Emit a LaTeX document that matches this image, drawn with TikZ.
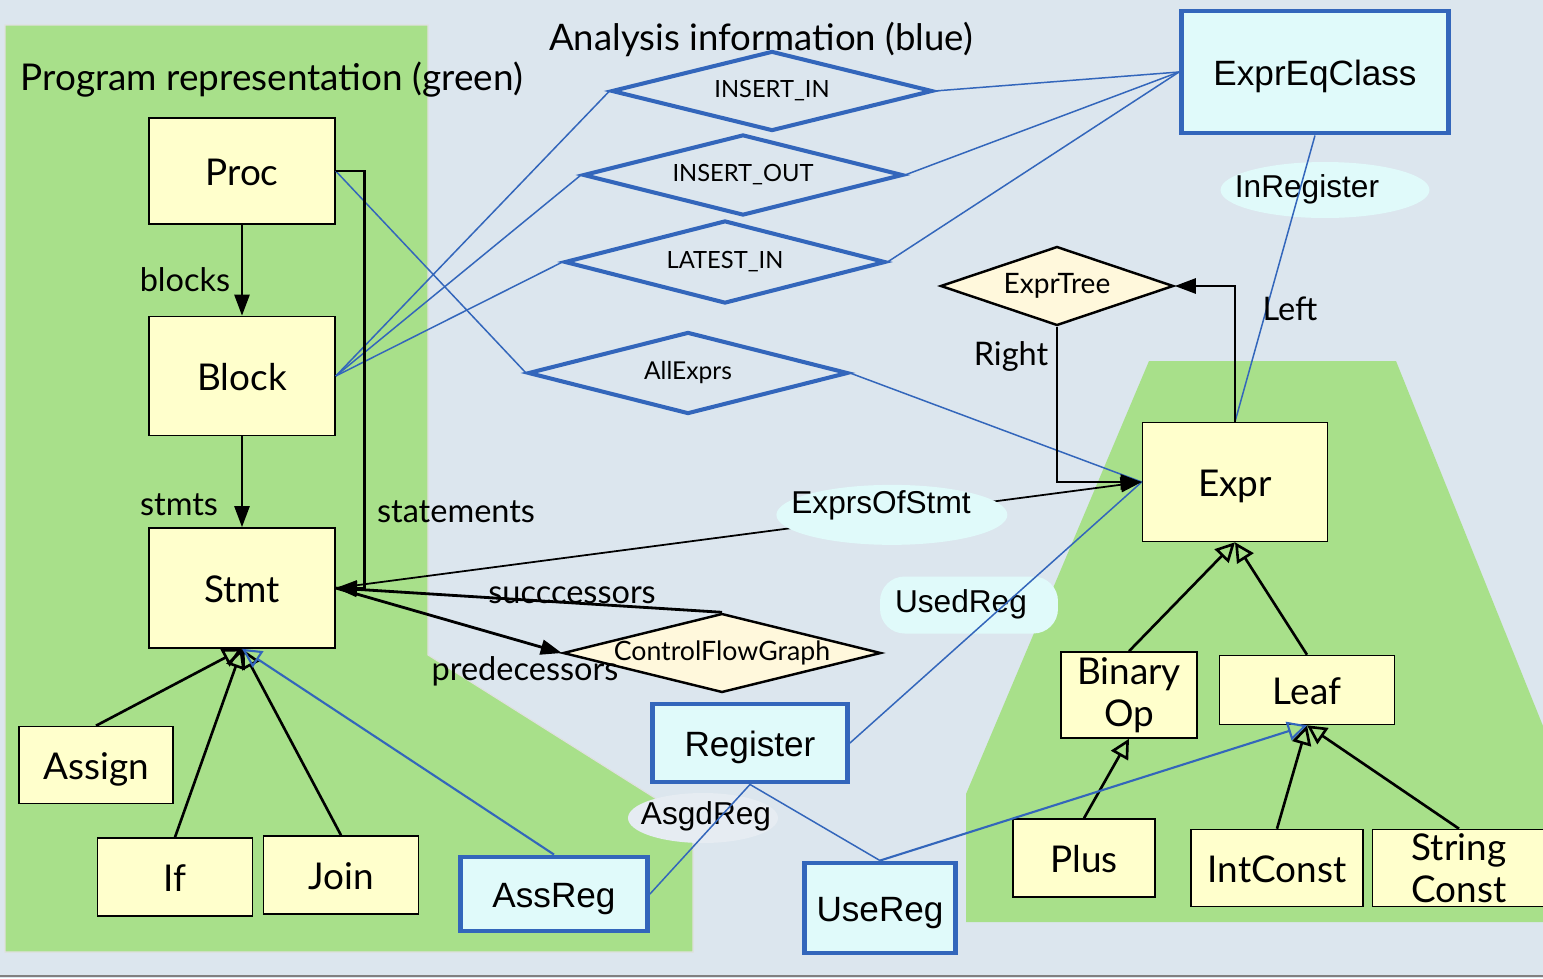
\documentclass[tikz,border=0pt]{standalone}
\usepackage{fontspec}
\setmainfont{Lato}
\newfontfamily\arialfont{Liberation Sans}
\usetikzlibrary{shapes.geometric,arrows.meta}
\definecolor{bgcol}{HTML}{DCE6EE}
\definecolor{greencol}{HTML}{A8E08A}
\definecolor{classcol}{HTML}{FFFFCC}
\definecolor{regcol}{HTML}{E0FAFA}
\definecolor{bluecol}{HTML}{3366BB}
\definecolor{relcol}{HTML}{FFF8DC}
\definecolor{asgdcol}{HTML}{E6ECF2}
\tikzset{
  cls/.style={draw, line width=0.9pt, fill=classcol, inner sep=0pt, align=center, font=\fontsize{21}{24}\selectfont},
  cls1/.style={cls, text height=19pt, text depth=2.6pt},
  reg/.style={draw=bluecol, line width=2.8pt, fill=regcol, inner sep=0pt, text height=19pt, text depth=4pt, font=\arialfont\fontsize{20}{24}\selectfont},
  ana/.style={diamond, draw=bluecol, line width=2.3pt, aspect=4, inner sep=0pt, font=\fontsize{13.5}{16}\selectfont},
  rel/.style={diamond, draw, line width=1.4pt, fill=relcol, aspect=4, inner sep=0pt},
  role/.style={ellipse, fill=regcol, inner sep=0pt},
  roletext/.style={font=\arialfont\fontsize{18}{20}\selectfont},
  lbl/.style={anchor=base, font=\fontsize{18.5}{22}\selectfont},
  ttl/.style={anchor=base, font=\fontsize{21}{25}\selectfont},
  assoc/.style={line width=1.6pt, -{Triangle[length=12pt,width=8.5pt]}},
  isa/.style={line width=1.5pt, -{Triangle[open,length=11pt,width=11pt]}},
  isablue/.style={draw=bluecol, line width=1.2pt, -{Triangle[open,length=11pt,width=11pt]}},
  link/.style={draw=bluecol, line width=0.85pt},
}
\begin{document}
\begin{tikzpicture}[x=0.02cm, y=-0.02cm]
	\useasboundingbox (0,0) rectangle (1543,978);
	\fill[bgcol] (0,0) rectangle (1543,978);
	\filldraw[fill=greencol, draw=black!12, line width=0.6pt] (5,25) -- (428,25) -- (428,655) -- (693,822) -- (693,952) -- (5,952) -- cycle;
	\fill[greencol] (1149,361) -- (1396,361) -- (1543,726) -- (1543,922) -- (966,922) -- (966,794) -- cycle;
	\draw[gray, line width=1pt] (0,976) -- (1543,976);

	\node[ttl] (progtitle) at (272,90) {Program representation (green)};
	\node[ttl, font=\fontsize{20.8}{25}\selectfont] (anatitle) at (761,50) {Analysis information (blue)};

	\node[role, minimum width=4.18cm, minimum height=1.12cm] (inreg) at (1325,190) {};
	\node[roletext] (inregtext) at (1307,189) {InRegister};
	\node[role, shape=rectangle, rounded corners=14pt, minimum width=3.56cm, minimum height=1.14cm] (usedreg) at (969,605) {};
	\node[roletext] (usedregtext) at (961,604) {UsedReg};
	\node[role, fill=asgdcol, minimum width=3.0cm, minimum height=1.0cm] (asgdreg) at (703,818) {};
	\node[roletext] (asgdregtext) at (706,816) {AsgdReg};

	\node[cls1, minimum width=3.72cm, minimum height=2.12cm] (proc) at (242,171) {Proc};
	\node[cls1, minimum width=3.72cm, minimum height=2.38cm] (block) at (242,376) {Block};
	\node[cls1, minimum width=3.72cm, minimum height=2.4cm] (stmt) at (242,588) {Stmt};
	\node[cls1, minimum width=3.08cm, minimum height=1.54cm] (assign) at (96,765) {Assign};
	\node[cls1, minimum width=3.1cm, minimum height=1.56cm] (if) at (175,877) {If};
	\node[cls1, minimum width=3.1cm, minimum height=1.56cm] (join) at (341,875) {Join};
	\node[reg, minimum width=3.74cm, minimum height=1.48cm] (assreg) at (554,894) {AssReg};
	\node[reg, minimum width=3.9cm, minimum height=1.56cm] (register) at (750,743) {Register};
	\node[reg, minimum width=3.02cm, minimum height=1.8cm] (usereg) at (880,908) {UseReg};
	\node[reg, minimum width=5.34cm, minimum height=2.44cm] (expreq) at (1315,72) {ExprEqClass};
	\node[cls1, minimum width=3.7cm, minimum height=2.38cm] (expr) at (1235,482) {Expr};
	\node[cls, minimum width=2.72cm, minimum height=1.72cm] (binop) at (1129,695) {Binary\\Op};
	\node[cls1, minimum width=3.5cm, minimum height=1.38cm] (leaf) at (1307,690) {Leaf};
	\node[cls1, minimum width=2.84cm, minimum height=1.56cm] (plus) at (1084,858) {Plus};
	\node[cls1, minimum width=3.44cm, minimum height=1.54cm] (intconst) at (1277,868) {IntConst};
	\node[cls, minimum width=3.46cm, minimum height=1.54cm] (strconst) at (1459,868) {String\\Const};

	\node[ana, minimum width=6.42cm, minimum height=1.6cm] (insin) at (772,91) {INSERT\_IN};
	\node[ana, minimum width=6.4cm, minimum height=1.62cm] (insout) at (743,175) {INSERT\_OUT};
	\node[ana, minimum width=6.42cm, minimum height=1.66cm] (latin) at (725,262) {LATEST\_IN};
	\node[ana, minimum width=6.4cm, minimum height=1.64cm, font=\fontsize{14}{16}\selectfont] (allexprs) at (688,373) {AllExprs};
	\node[rel, minimum width=4.66cm, minimum height=1.58cm, font=\fontsize{16}{18}\selectfont] (exprtree) at (1057,286) {ExprTree};
	\node[rel, minimum width=6.36cm, minimum height=1.58cm, font=\fontsize{15.2}{18}\selectfont] (cfg) at (722,653) {ControlFlowGraph};

	\draw[link] (block.east) -- (insin.west);
	\draw[link] (block.east) -- (insout.west);
	\draw[link] (block.east) -- (latin.west);
	\draw[link] (proc.east) -- (allexprs.west);
	\draw[link] (insin.east) -- (expreq.west);
	\draw[link] (insout.east) -- (expreq.west);
	\draw[link] (latin.east) -- (expreq.west);
	\draw[link] (allexprs.east) -- (expr.west);
	\draw[link] (expreq.south) -- (expr.north);
	\draw[link] (register.east) -- (expr.west);
	\draw[link] (register.south) -- (assreg.east);
	\draw[link] (register.south) -- (usereg.north);

	\draw[assoc] (proc) -- (block);
	\draw[assoc] (block) -- (stmt);
	\draw[assoc] (proc.east) -- ++(29,0) |- (stmt.east);
	\draw[assoc] (cfg.north) -- (stmt.east);
	\draw[assoc] (stmt.east) -- (cfg.west);
	\draw[assoc] (expr.north) |- (exprtree.east);
	\draw[assoc] (exprtree.south) |- (expr.west);
	\draw[line width=1pt, -{Triangle[length=12pt,width=8.5pt]}] (stmt.east) -- node[role, pos=0.69, minimum width=4.62cm, minimum height=1.2cm] (exprsofstmt) {} (expr.west);
	\node[roletext] (exprsofstmttext) at (881,505) {ExprsOfStmt};

	\draw[isa] (assign.north) -- (stmt.south);
	\draw[isa] (if.north) -- (stmt.south);
	\draw[isa] (join.north) -- (stmt.south);
	\draw[isablue] (assreg.north) -- (stmt.south);
	\draw[isa] (binop.north) -- (expr.south);
	\draw[isa] (leaf.north) -- (expr.south);
	\draw[isa] (plus.north) -- (binop.south);
	\draw[isa] (intconst.north) -- (leaf.south);
	\draw[isa] (strconst.north) -- (leaf.south);
	\draw[isablue] (usereg.north) -- (leaf.south);

	\node[lbl] (blockslbl) at (185,291) {blocks};
	\node[lbl] (stmtslbl) at (179,515) {stmts};
	\node[lbl] (statementslbl) at (456,522) {statements};
	\node[lbl] (succlbl) at (572,603) {succcessors};
	\node[lbl] (predlbl) at (525,680) {predecessors};
	\node[lbl] (rightlbl) at (1011,365) {Right};
	\node[lbl] (leftlbl) at (1290,320) {Left};
\end{tikzpicture}
\end{document}
